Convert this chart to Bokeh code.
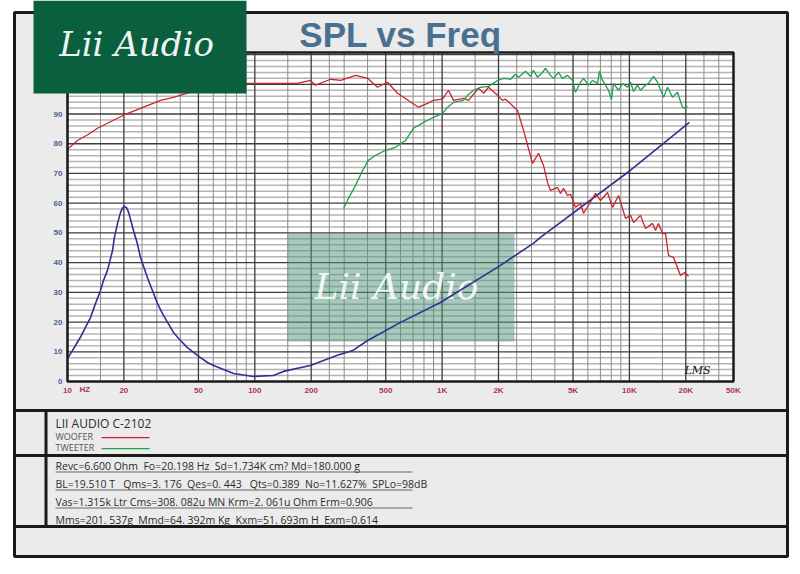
import math
from bokeh.plotting import figure
from bokeh.models import FixedTicker, BoxAnnotation, Label, Range1d, LogScale, LinearAxis, LogAxis
from bokeh.embed import file_html
from bokeh.resources import INLINE

# ---------------- data ----------------
woofer_freq = [10, 11.3, 12.94, 14.46, 19.9, 31.4, 36.8, 43.7, 62, 90.3, 169, 198, 211, 254, 287,
               345, 400, 452, 511, 578, 748, 836, 900, 1005, 1082, 1150, 1300, 1383, 1565, 1664,
               1770, 1977, 2100, 2181, 2527, 2721, 3039, 3271, 3478, 3654, 3791, 4131, 4286, 4447,
               4672, 4848, 5152, 5483, 5689, 6053, 6592, 7015, 7640, 8128, 8750, 9531, 10140, 10520,
               11460, 12190, 13280, 13780, 14300, 15020, 15590, 16170, 17190, 18740, 19690, 20680]
woofer_spl = [78.1, 81.1, 83.2, 85.2, 89.6, 94.6, 95.6, 97.0, 98.8, 100.3, 100.3, 101.3, 99.7, 101.7, 101.3,
              103.0, 102.0, 99.0, 100.7, 97.0, 92.3, 93.6, 94.6, 95.0, 98.0, 94.6, 95.3, 94.6, 98.7, 97.0,
              99.0, 96.3, 94.6, 95.0, 91.2, 84.5, 73.4, 76.8, 72.7, 67.0, 64.3, 65.3, 63.3, 65.0,
              62.6, 63.0, 58.6, 59.9, 56.6, 59.3, 63.3, 60.9, 63.6, 58.6, 62.6, 54.9, 55.9, 53.5,
              55.9, 51.5, 53.2, 50.8, 53.2, 49.8, 49.8, 42.4, 41.8, 35.7, 36.7, 35.4]

tweeter_freq = [298, 316, 345, 376, 404, 441, 499, 564, 638, 703, 796, 900, 1005, 1069, 1150, 1300, 1367,
                1472, 1603, 1770, 1977, 2128, 2318, 2466, 2559, 2787, 2965, 3076, 3229, 3436, 3566, 3791,
                3933, 4182, 4393, 4672, 4966, 5152, 5483, 5689, 6053, 6355, 6757, 6923, 7182, 7452, 7730,
                8020, 8222, 8750, 9184, 9770, 10140, 10520, 11040, 11460, 12190, 12650, 13450, 14130,
                15210, 15980, 16990, 18060, 19210, 19920, 20420]
tweeter_spl = [58.2, 61.6, 66.0, 71.0, 74.4, 76.1, 77.8, 78.8, 81.1, 85.2, 87.2, 88.9, 90.2, 92.3, 93.9, 94.6, 96.3,
               98.0, 99.0, 99.3, 101.3, 102.0, 101.7, 103.4, 102.4, 104.4, 102.7, 104.7, 102.4, 104.0, 105.4, 103.0,
               102.0, 104.0, 102.0, 103.0, 101.3, 97.3, 100.7, 102.0, 99.7, 101.3, 100.3, 104.4, 101.3, 99.7, 98.0,
               94.9, 100.3, 98.0, 100.3, 99.0, 100.7, 97.6, 99.7, 98.0, 99.7, 100.3, 102.7, 100.7,
               95.6, 99.0, 95.6, 97.3, 92.3, 91.9, 92.6]

imp_freq = [10.1, 11.7, 12.47, 13.27, 14.1, 15.0, 15.56, 16.35, 17.4, 17.8, 18.5, 19.2, 19.7, 20.15, 20.7,
            21.2, 22.5, 23.6, 24.5, 26.7, 28.4, 30.2, 32.1, 34.2, 36.8, 40.1, 43.7, 49.4, 55.9, 60.3,
            77, 98.4, 125.8, 142, 198, 276, 333, 400, 600, 980, 2040, 3070, 3350, 10100, 20900]
imp_ohm = [8.1, 14.8, 18.2, 21.5, 26.2, 30.6, 34.0, 37.4, 44.1, 48.5, 53.2, 56.9, 58.4, 58.9, 58.4,
           56.9, 50.8, 46.4, 41.8, 35.0, 30.6, 26.3, 22.9, 19.9, 16.5, 13.8, 11.4, 8.8, 6.4, 5.4,
           2.7, 1.7, 2.0, 3.4, 5.4, 8.8, 10.4, 13.8, 19.9, 26.6, 39.0, 46.5, 48.5, 71.0, 87.2]

x_tick_values = [10, 20, 50, 100, 200, 500, 1000, 2000, 5000, 10000, 20000, 35900]
x_tick_labels = ["10", "20", "50", "100", "200", "500", "1K", "2K", "5K", "10K", "20K", "50K"]
y_tick_values = [0, 10, 20, 30, 40, 50, 60, 70, 80, 90, 100]
x_major_grid = [10, 20, 50, 100, 200, 500, 1000, 2000, 5000, 10000, 20000]
x_minor_mult = [1.5, 2.5, 3, 4, 6, 7, 8, 9]
x_decades = [10, 100, 1000, 10000]

title_text = "SPL vs Freq"
brand_text = "Lii Audio"
model_text = "LII AUDIO C-2102"
legend_names = ["WOOFER", "TWEETER"]
param_lines = [
    "Revc=6.600 Ohm  Fo=20.198 Hz  Sd=1.734K cm? Md=180.000 g",
    "BL=19.510 T   Qms=3. 176  Qes=0. 443   Qts=0.389  No=11.627%  SPLo=98dB",
    "Vas=1.315k Ltr Cms=308. 082u MN Krm=2. 061u Ohm Erm=0.906",
    "Mms=201. 537g  Mmd=64. 392m Kg  Kxm=51. 693m H  Exm=0.614",
]

RED = "#cc2229"
GREEN = "#1f9e4f"
BLUE = "#2e3192"

# ---------------- layout ----------------
W, H = 800, 574
# chart rectangle on the canvas (px, y from top) and its data limits
FL, FR, FT, FB = 67, 733, 52, 381
F0, F1 = 10.0, 35950.0
V0, V1 = 0.0, 110.7

dpx = (FR - FL) / math.log10(F1 / F0)          # px per decade
kdb = (V1 - V0) / (FB - FT)                     # dB per px
freq_range = Range1d(F0 * 10 ** (-FL / dpx), F0 * 10 ** ((W - FL) / dpx))
db_range = Range1d(V0 - (H - FB) * kdb, V1 + FT * kdb)

p = figure(width=W, height=H, output_backend="svg", toolbar_location=None,
           x_range=Range1d(0, W), y_range=Range1d(H, 0),
           x_axis_location=None, y_axis_location=None,
           min_border_left=0, min_border_right=0, min_border_top=0, min_border_bottom=0)
p.extra_x_ranges = {"freq": freq_range}
p.extra_x_scales = {"freq": LogScale()}
p.extra_y_ranges = {"db": db_range}
p.border_fill_color = "white"
p.background_fill_color = "white"
p.outline_line_color = None
for g in p.grid:
    g.visible = False

CH = dict(x_range_name="freq", y_range_name="db")


def keep_spaces(s):
    # SVG collapses runs of spaces; keep the gaps with no-break spaces
    out, prev = [], ""
    for ch in s:
        out.append("\u00a0" if (ch == " " and prev == " ") else ch)
        prev = ch
    return "".join(out)


def box(X0, Y0, X1, Y1, **kw):
    kw.setdefault("line_alpha", 1)
    b = BoxAnnotation(left=X0, right=X1, top=Y0, bottom=Y1, **kw)
    p.add_layout(b)
    return b


def label(X, Y, text, **kw):
    lb = Label(x=X, y=Y, text=text, **kw)
    p.add_layout(lb)
    return lb


# outer sheet and white chart area
box(14, 12, 787, 556, fill_color="#ebebeb", fill_alpha=1, line_color="#1a1a1a", line_width=3, level="image")
box(FL, FT, FR, FB, fill_color="white", fill_alpha=1, line_color=None, level="image")

# grid lines (drawn through the chart scales)
h_minor = [v for v in range(2, 111, 2) if v % 10 != 0]
h_major = list(range(10, 111, 10))
x_minor = [d * m for d in x_decades for m in x_minor_mult if d * m < F1]
p.segment(x0=[F0] * len(h_minor), x1=[F1] * len(h_minor), y0=h_minor, y1=h_minor,
          line_color="#b4b4b4", line_width=1.5, **CH)
p.segment(x0=x_minor, x1=x_minor, y0=[V0] * len(x_minor), y1=[V1] * len(x_minor),
          line_color="#8c8c8c", line_width=1, **CH)
p.segment(x0=x_major_grid, x1=x_major_grid, y0=[V0] * len(x_major_grid), y1=[V1] * len(x_major_grid),
          line_color="#3c3c3c", line_width=1.3, **CH)
p.segment(x0=[F0] * len(h_major), x1=[F1] * len(h_major), y0=h_major, y1=h_major,
          line_color="#3c3c3c", line_width=1.3, **CH)

# watermark
p.quad(left=[287], right=[514], top=[233], bottom=[341], fill_color="#4f9579", fill_alpha=0.5, line_color=None)
p.text(x=[396], y=[286], text=[brand_text], text_font={"value": "DejaVu Serif"}, text_font_style="italic",
       text_font_size="36px", text_color="#ffffff", text_alpha=0.9, text_align="center", text_baseline="middle")

# curves
p.line(imp_freq, imp_ohm, line_color=BLUE, line_width=1.6, line_join="round", **CH)
p.line(woofer_freq, woofer_spl, line_color=RED, line_width=1.3, **CH)
p.line(tweeter_freq, tweeter_spl, line_color=GREEN, line_width=1.3, **CH)

# chart frame outline
box(FL, FT, FR, FB, fill_alpha=0, line_color="#1a1a1a", line_width=2.5)

# axes (fixed at the chart edges)
xa = LogAxis(x_range_name="freq", y_range_name="db", fixed_location=V0, bounds=(F0, F1),
             ticker=FixedTicker(ticks=x_tick_values))
xa.major_label_overrides = {v: t for v, t in zip(x_tick_values, x_tick_labels)}
xa.major_label_text_font = "Liberation Sans"
xa.major_label_text_font_style = "bold"
xa.major_label_text_font_size = "8px"
xa.major_label_text_color = "#b03060"
xa.major_label_standoff = 4
xa.axis_line_color = None
xa.major_tick_line_color = None
xa.minor_tick_line_color = None
xa.major_tick_out = 0
xa.major_tick_in = 0
p.add_layout(xa, "below")

ya = LinearAxis(x_range_name="freq", y_range_name="db", fixed_location=F0, bounds=(0, 100),
                ticker=FixedTicker(ticks=y_tick_values))
ya.major_label_text_font = "Liberation Sans"
ya.major_label_text_font_style = "bold"
ya.major_label_text_font_size = "8px"
ya.major_label_text_color = "#4a5f94"
ya.major_label_standoff = 5
ya.axis_line_color = None
ya.major_tick_line_color = None
ya.minor_tick_line_color = None
ya.major_tick_out = 0
ya.major_tick_in = 0
p.add_layout(ya, "left")

label(79, 389, "HZ", text_font="Liberation Sans", text_font_style="bold", text_font_size="8px",
      text_color="#b03060", text_align="left", text_baseline="middle")
label(697, 370, "LMS", text_font="DejaVu Serif", text_font_style="italic", text_font_size="11px",
      text_color="#111111", text_align="center", text_baseline="middle")

# title
label(400, 34, title_text, text_font="Liberation Sans", text_font_style="bold", text_font_size="35px",
      text_color="#4a7090", text_align="center", text_baseline="middle")

# logo
box(33, 0, 246, 93, fill_color="#0a5f3f", fill_alpha=1, line_color=None, level="overlay")
label(136, 43, brand_text, text_font="DejaVu Serif", text_font_style="italic", text_font_size="34px",
      text_color="#eef4ef", text_align="center", text_baseline="middle", level="overlay")

# table
for yy in [410, 455, 526]:
    box(14, yy - 1.5, 787, yy + 1.5, fill_color="#1a1a1a", fill_alpha=1, line_color=None)
box(44, 410, 47, 526, fill_color="#1a1a1a", fill_alpha=1, line_color=None)

label(55, 423, model_text, text_font="Open Sans", text_font_size="12px", text_color="#2b2b2b",
      text_align="left", text_baseline="middle")
label(55, 436, legend_names[0], text_font="Open Sans", text_font_size="9px", text_color="#555555",
      text_align="left", text_baseline="middle")
label(55, 447, legend_names[1], text_font="Open Sans", text_font_size="9px", text_color="#555555",
      text_align="left", text_baseline="middle")
box(101, 436.5, 149, 437.7, fill_color=RED, fill_alpha=1, line_color=None)
box(101, 447.5, 149, 448.7, fill_color=GREEN, fill_alpha=1, line_color=None)

for i, (txt, yy) in enumerate(zip(param_lines, [465, 483, 501, 519])):
    label(55, yy, keep_spaces(txt), text_font="Open Sans", text_font_size="10.5px", text_color="#2b2b2b",
          text_align="left", text_baseline="middle")
    if i < 3:
        box(55, yy + 6, 412, yy + 7, fill_color="#666666", fill_alpha=1, line_color=None)

open("out.html", "w").write(file_html(p, INLINE))
